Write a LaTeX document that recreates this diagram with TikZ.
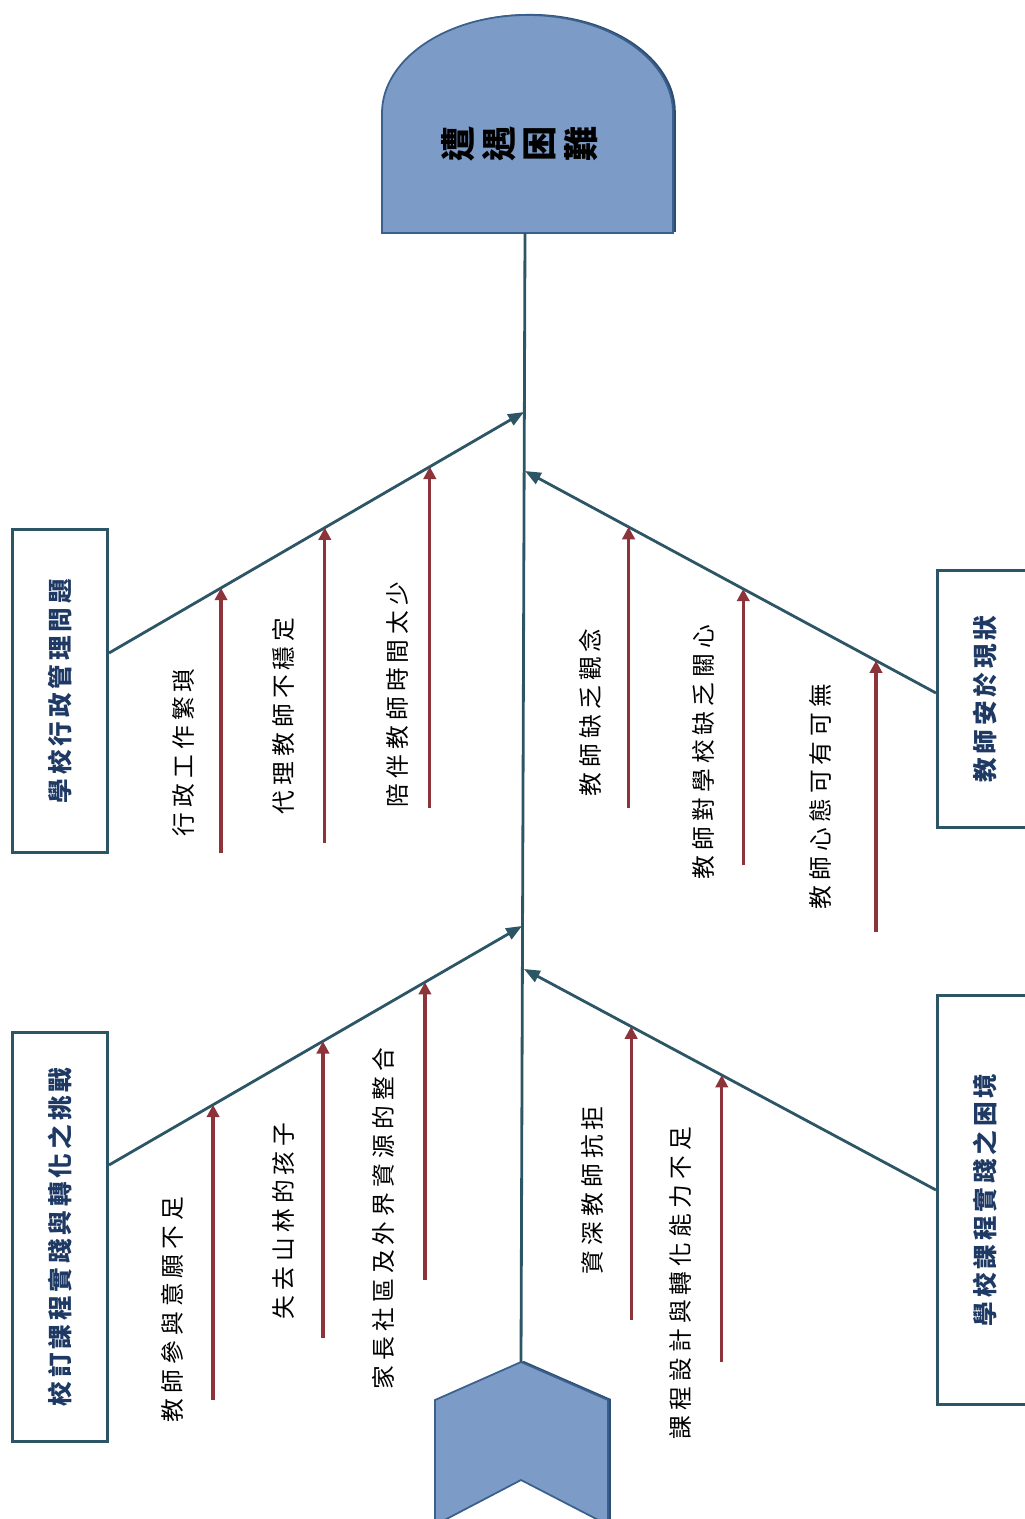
\documentclass[tikz,border=0pt]{standalone}
\usepackage{fontspec}
\newfontfamily\cjk[LetterSpace=22]{Noto Sans CJK TC}
\newfontfamily\cjkcat[LetterSpace=16]{Noto Sans CJK TC}
\newfontfamily\cjkhead{Noto Sans CJK TC}
\usetikzlibrary{calc,arrows.meta,shadows}
\definecolor{BoneTeal}{RGB}{44,86,102}
\definecolor{CauseRed}{RGB}{140,52,58}
\definecolor{HeadBlue}{RGB}{124,155,198}
\definecolor{HeadEdge}{RGB}{58,96,142}
\definecolor{CatNavy}{RGB}{30,58,100}
\tikzset{
  catbox/.style={draw=BoneTeal,line width=1.7pt,fill=white,inner sep=0pt,rotate=90,
    text=CatNavy,font=\cjkcat\bfseries\fontsize{14}{16}\selectfont},
  bone/.style={draw=BoneTeal,line width=1.6pt,-{Triangle[length=9pt,width=7pt]}},
  spineline/.style={draw=BoneTeal,line width=1.6pt},
  cause/.style={draw=CauseRed,line width=1.8pt,-{Triangle[length=7pt,width=7pt]}},
  why/.style={rotate=90,anchor=west,inner sep=0pt,font=\cjk\fontsize{13.5}{15}\selectfont},
  headch/.style={rotate=90,inner sep=0pt,font=\cjkhead\bfseries\fontsize{20}{22}\selectfont},
  fishpart/.style={fill=HeadBlue,draw=HeadEdge,line width=1pt,
    drop shadow={shadow xshift=1.6pt,shadow yshift=0.6pt,fill=HeadEdge!80!black,opacity=1}},
}

\begin{document}
\begin{tikzpicture}[x=0.02cm,y=-0.02cm]
\clip (0,0) rectangle (1025,1519);
% head and tail
\path[fishpart] (382,233) -- (382,113) .. controls (382,59) and (447,15) .. (527.5,15)
  .. controls (608,15) and (673,59) .. (673,113) -- (673,233) -- cycle;
\path[fishpart] (521,1362) -- (608,1400) -- (608,1525) -- (521,1480) -- (435,1525) -- (435,1400) -- cycle;
\node[headch] (h1) at (458,144) {遭};
\node[headch] (h2) at (499,144) {遇};
\node[headch] (h3) at (540,144) {困};
\node[headch] (h4) at (581,144) {難};
\coordinate (head) at (525,233);
\coordinate (tail) at (521,1362);
\draw[spineline] (head) -- (tail);
% category boxes
\node[catbox,minimum width=6.46cm,minimum height=1.92cm] (admin) at (60,691) {學校行政管理問題};
\node[catbox,minimum width=8.18cm,minimum height=1.92cm] (school) at (60,1237) {校訂課程實踐與轉化之挑戰};
\node[catbox,minimum width=5.16cm,minimum height=1.92cm] (teach) at (985,699) {教師安於現狀};
\node[catbox,minimum width=8.2cm,minimum height=1.92cm] (plight) at (985,1200) {學校課程實踐之困境};
\coordinate (admin-in) at (109,653);
\coordinate (school-in) at (109,1165);
\coordinate (teach-in) at (936,693);
\coordinate (plight-in) at (936,1190);
\coordinate (sp-admin) at (524,412);
\coordinate (sp-school) at (522,926);
\coordinate (sp-teach) at (525,471);
\coordinate (sp-plight) at (524,969);
\draw[bone] (admin-in) -- (sp-admin);
\draw[bone] (school-in) -- (sp-school);
\draw[bone] (teach-in) -- (sp-teach);
\draw[bone] (plight-in) -- (sp-plight);
% causes, upper left
\coordinate (a1) at ($(admin-in)!0.27!(sp-admin)$);
\coordinate (a2) at ($(admin-in)!0.52!(sp-admin)$);
\coordinate (a3) at ($(admin-in)!0.773!(sp-admin)$);
\draw[cause] (a1 |- 0,853) -- (a1);
\draw[cause] (a2 |- 0,843) -- (a2);
\draw[cause] (a3 |- 0,808) -- (a3);
\node[why] (wa1) at (183,837) {行政工作繁瑣};
\node[why] (wa2) at (283,815) {代理教師不穩定};
\node[why] (wa3) at (397,808) {陪伴教師時間太少};
% causes, lower left
\coordinate (b1) at ($(school-in)!0.252!(sp-school)$);
\coordinate (b2) at ($(school-in)!0.518!(sp-school)$);
\coordinate (b3) at ($(school-in)!0.765!(sp-school)$);
\draw[cause] (b1 |- 0,1400) -- (b1);
\draw[cause] (b2 |- 0,1338) -- (b2);
\draw[cause] (b3 |- 0,1280) -- (b3);
\node[why] (wb1) at (172,1423) {教師參與意願不足};
\node[why] (wb2) at (283,1320) {失去山林的孩子};
\node[why] (wb3) at (383,1390) {家長社區及外界資源的整合};
% causes, upper right
\coordinate (c1) at ($(teach-in)!0.748!(sp-teach)$);
\coordinate (c2) at ($(teach-in)!0.469!(sp-teach)$);
\coordinate (c3) at ($(teach-in)!0.146!(sp-teach)$);
\draw[cause] (c1 |- 0,808) -- (c1);
\draw[cause] (c2 |- 0,865) -- (c2);
\draw[cause] (c3 |- 0,932) -- (c3);
\node[why] (wc1) at (590,797) {教師缺乏觀念};
\node[why] (wc2) at (703,880) {教師對學校缺乏關心};
\node[why] (wc3) at (820,910) {教師心態可有可無};
% causes, lower right
\coordinate (d1) at ($(plight-in)!0.74!(sp-plight)$);
\coordinate (d2) at ($(plight-in)!0.52!(sp-plight)$);
\draw[cause] (d1 |- 0,1320) -- (d1);
\draw[cause] (d2 |- 0,1362) -- (d2);
\node[why] (wd1) at (592,1275) {資深教師抗拒};
\node[why] (wd2) at (680,1440) {課程設計與轉化能力不足};
\end{tikzpicture}
\end{document}
